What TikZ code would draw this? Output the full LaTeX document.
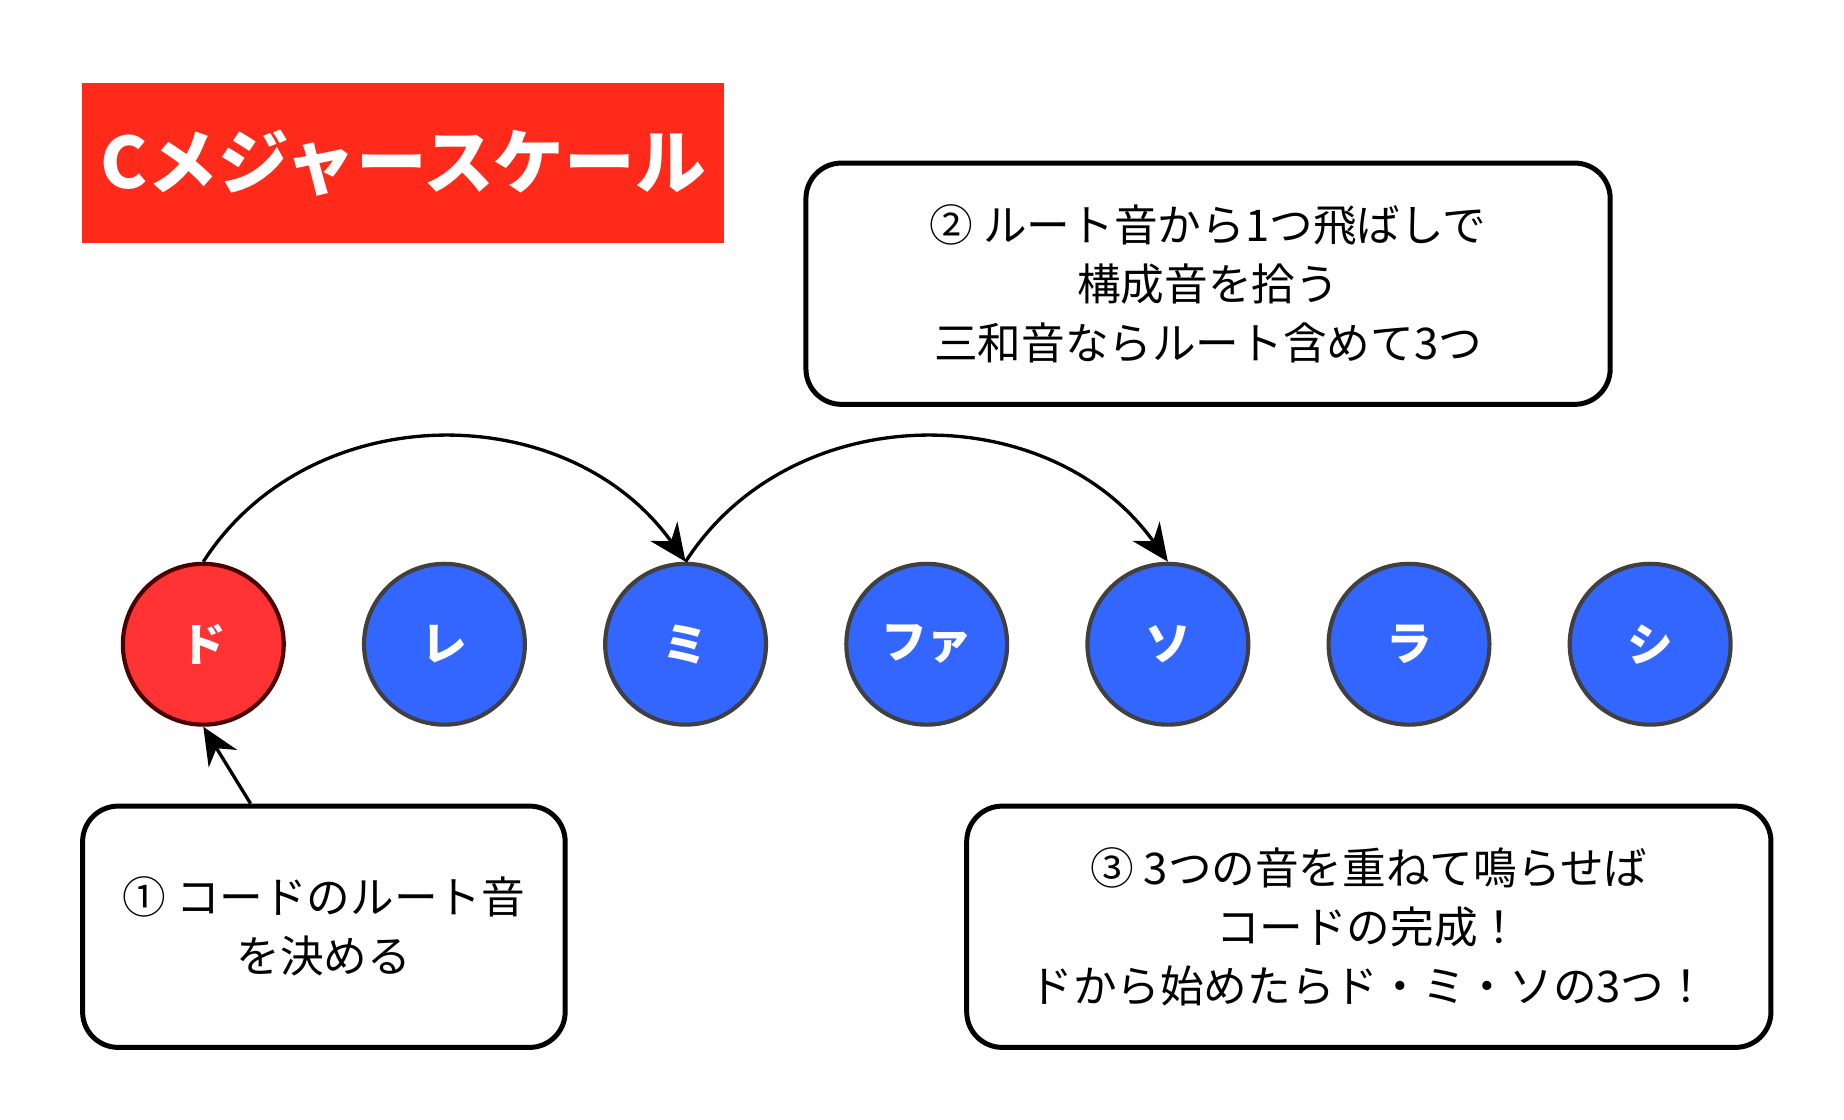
\documentclass[tikz,border=0pt]{standalone}
\usepackage{fontspec}
\setmainfont{Noto Sans CJK JP}
\usetikzlibrary{arrows.meta,positioning,calc}
\definecolor{titlered}{HTML}{FF2A1A}
\definecolor{rootred}{HTML}{FF3333}
\definecolor{notblue}{HTML}{3366FF}

\begin{document}
\begin{tikzpicture}[x=0.01cm, y=-0.01cm, >={Stealth[length=9pt,width=8pt]}, thick]
    \tikzstyle{note}=[circle,minimum size=1.36cm,draw=black!75,line width=1pt,fill=notblue,text=white,font=\fontsize{11}{13}\selectfont\bfseries,inner sep=0pt]
    \tikzstyle{box}=[draw=black,line width=1.2pt,rounded corners=0.3cm,align=center,font=\fontsize{10.5}{14.2}\selectfont]
    \useasboundingbox (0,0) rectangle (1560,947);
    \node[fill=titlered,text=white,minimum width=5.43cm,minimum height=1.35cm,font=\fontsize{17}{20}\selectfont\bfseries] (title) at (341,138) {Cメジャースケール};
    \node[note,fill=rootred,draw=black!70!red] (do) at (172,545) {ド};
    \node[note] (re) at (376,545) {レ};
    \node[note] (mi) at (580,545) {ミ};
    \node[note] (fa) at (784,545) {ファ};
    \node[note] (so) at (988,545) {ソ};
    \node[note] (la) at (1192,545) {ラ};
    \node[note] (si) at (1396,545) {シ};
    \node[box,minimum width=6.8cm,minimum height=2.04cm] (skip) at (1022,240) {② ルート音から1つ飛ばしで\\構成音を拾う\\三和音ならルート含めて3つ};
    \node[box,minimum width=4.08cm,minimum height=2.04cm] (root) at (274,784) {① コードのルート音\\を決める};
    \node[box,minimum width=6.8cm,minimum height=2.04cm] (chord) at (1158,784) {③ 3つの音を重ねて鳴らせば\\コードの完成！\\ドから始めたらド・ミ・ソの3つ！};
    \draw[->] (do.north) .. controls ($(do.north)+(90,-140)$) and ($(mi.north)+(-100,-140)$) .. (mi.north);
    \draw[->] (mi.north) .. controls ($(mi.north)+(90,-140)$) and ($(so.north)+(-100,-140)$) .. (so.north);
    \draw[->] (root.north -| 212,0) -- (do.south);
\end{tikzpicture}
\end{document}
